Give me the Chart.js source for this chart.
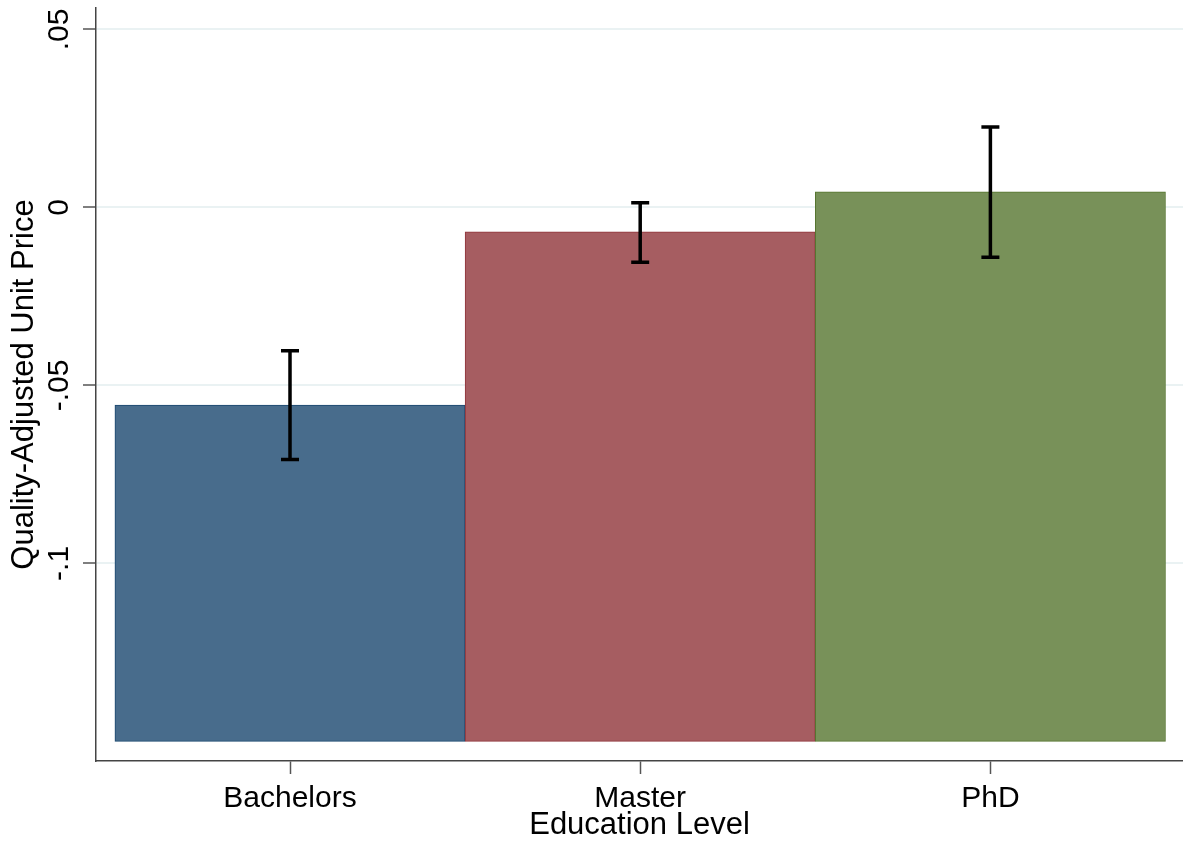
<!DOCTYPE html>
<html>
<head>
<meta charset="utf-8">
<script src="https://cdn.jsdelivr.net/npm/chart.js@4/dist/chart.umd.min.js"></script>
<style>
  html, body { margin: 0; padding: 0; background: #fff; }
  canvas { display: block; }
</style>
</head>
<body>
<canvas id="chart" width="1183" height="844"></canvas>
<script>
// Data
const categories = ["Bachelors", "Master", "PhD"];
const means = [-0.0555, -0.0069, 0.0044];
const ciLow = [-0.0708, -0.0154, -0.0140];
const ciHigh = [-0.0403, 0.0013, 0.0226];
const barBase = -0.15;
const yTickValues = [-0.1, -0.05, 0, 0.05];
const yTickLabels = ["-.1", "-.05", "0", ".05"];

// Colours
const fills = ["#486c8c", "#a65d61", "#789159"];
const borders = ["#1a476f", "#90353b", "#55752f"];
const fontFamily = "'Liberation Sans', Arial, sans-serif";

// Rotated y tick labels
const yLabelsPlugin = {
  id: "yLabels",
  afterDraw(chart) {
    const ctx = chart.ctx;
    const y = chart.scales.y;
    ctx.save();
    ctx.fillStyle = "#000";
    ctx.font = `30px ${fontFamily}`;
    ctx.textAlign = "center";
    ctx.textBaseline = "alphabetic";
    yTickValues.forEach((v, i) => {
      ctx.save();
      ctx.translate(68, y.getPixelForValue(v));
      ctx.rotate(-Math.PI / 2);
      ctx.fillText(yTickLabels[i], 0, 0);
      ctx.restore();
    });
    ctx.restore();
  },
};

// Confidence interval whiskers
const errorBarsPlugin = {
  id: "errorBars",
  afterDatasetsDraw(chart) {
    const ctx = chart.ctx;
    const x = chart.scales.x;
    const y = chart.scales.y;
    ctx.save();
    ctx.strokeStyle = "#000";
    ctx.lineWidth = 3.5;
    ctx.lineCap = "butt";
    categories.forEach((c, i) => {
      const px = x.getPixelForValue(i + 1);
      const top = y.getPixelForValue(ciHigh[i]);
      const bot = y.getPixelForValue(ciLow[i]);
      ctx.beginPath();
      ctx.moveTo(px, top);
      ctx.lineTo(px, bot);
      ctx.moveTo(px - 9, top);
      ctx.lineTo(px + 9, top);
      ctx.moveTo(px - 9, bot);
      ctx.lineTo(px + 9, bot);
      ctx.stroke();
    });
    ctx.restore();
  },
};

const data = {
  datasets: [
    {
      data: means.map((v, i) => ({ x: i + 1, y: v })),
      base: barBase,
      backgroundColor: fills,
      borderColor: borders,
      borderWidth: 1,
      borderSkipped: false,
      categoryPercentage: 1,
      barPercentage: 1,
    },
  ],
};

const config = {
  type: "bar",
  data: data,
  options: {
    responsive: false,
    animation: false,
    devicePixelRatio: 1,
    layout: { padding: { top: 8, right: 0, left: 0, bottom: 0 } },
    plugins: {
      legend: { display: false },
      tooltip: { enabled: false },
    },
    scales: {
      x: {
        type: "linear",
        offset: false,
        min: 0.446,
        max: 3.55,
        afterBuildTicks: (scale) => {
          scale.ticks = categories.map((c, i) => ({ value: i + 1 }));
        },
        afterFit: (scale) => {
          scale.height = 83;
        },
        ticks: {
          callback: (v) => categories[v - 1],
          color: "#000",
          font: { family: fontFamily, size: 30 },
          padding: 7,
          maxRotation: 0,
        },
        grid: {
          drawOnChartArea: false,
          offset: false,
          tickLength: 13,
          tickColor: "#555",
          tickWidth: 1.5,
        },
        border: { color: "#444", width: 1.5 },
        title: {
          display: true,
          text: "Education Level",
          color: "#000",
          font: { family: fontFamily, size: 31, lineHeight: 1.2 },
          padding: { top: 0, bottom: 0 },
        },
      },
      y: {
        min: -0.1555,
        max: 0.056,
        afterBuildTicks: (scale) => {
          scale.ticks = yTickValues.map((v) => ({ value: v }));
        },
        afterFit: (scale) => {
          scale.width = 96;
        },
        ticks: { display: false },
        grid: {
          color: "#eaf2f3",
          lineWidth: 2,
          tickLength: 13,
          tickColor: "#555",
          tickWidth: 1.5,
        },
        border: { color: "#444", width: 1.5 },
        title: {
          display: true,
          text: "Quality-Adjusted Unit Price",
          color: "#000",
          font: { family: fontFamily, size: 31, lineHeight: 1.2 },
          padding: { top: 6, bottom: 0 },
        },
      },
    },
  },
  plugins: [yLabelsPlugin, errorBarsPlugin],
};

const myChart = new Chart(document.querySelector("#chart"), config);
</script>
</body>
</html>
